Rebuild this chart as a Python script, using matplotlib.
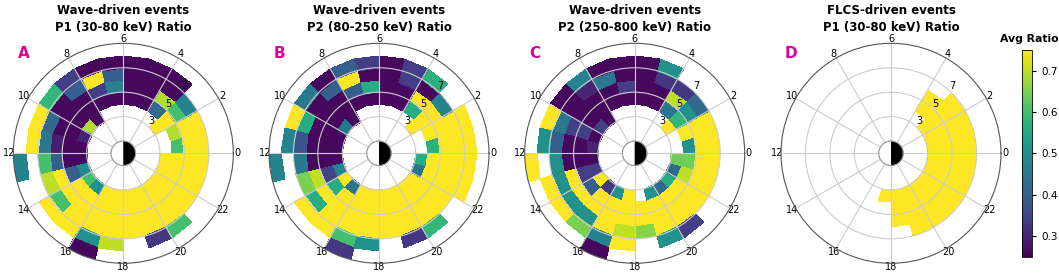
import numpy as np
import matplotlib
matplotlib.use("Agg")
import matplotlib.pyplot as plt

nan = np.nan

# bins: MLT in hours (1 h), L shell (1 unit, 3..9)
mlt_edges = np.arange(0, 25, 1)
l_edges = np.arange(3, 10, 1)

# average ratio per bin, one list per L ring (3-4, 4-5, ... 8-9), MLT 0..23
# A: wave-driven, P1 (30-80 keV)
a_L3 = [nan, nan, .75, nan, nan, nan, nan, nan, .26, .69, .30, .26, .26, .48, .60, .50, .75, .75, .75, .75, .75, .75, .75, .75]
a_L4 = [.60, .69, .75, .42, .26, .26, .26, .26, .26, .26, .26, .26, .26, .40, .75, .75, .75, .75, .75, .75, .75, .75, .75, .75]
a_L5 = [.75, .75, .60, .69, .26, .26, .47, .34, .26, .26, .26, .29, .40, .75, .75, .75, .75, .75, .75, .75, .75, .75, .75, .75]
a_L6 = [.75, .75, .47, .26, .26, .26, .40, .75, .40, .26, .42, .45, .60, .70, .60, .75, .75, .75, .75, .75, .75, .75, .75, .75]
a_L7 = [nan, nan, nan, .26, .26, .26, .26, .26, .34, .58, .75, .75, nan, nan, .75, .75, .50, .70, nan, .33, .60, nan, nan, nan]
a_L8 = [nan, nan, nan, nan, nan, nan, nan, nan, nan, nan, nan, nan, .47, nan, nan, nan, .26, nan, nan, nan, nan, nan, nan, nan]

# B: wave-driven, P2 (80-250 keV)
b_L3 = [nan, nan, .75, nan, nan, nan, nan, nan, .26, .45, .26, .26, .26, .47, .75, .44, .75, .75, .75, .75, .75, .75, .44, .56]
b_L4 = [.57, .75, .75, .56, .26, .26, .26, .26, .26, .26, .26, .26, .26, .35, .56, .75, .75, .75, .75, .75, .75, .75, .75, .75]
b_L5 = [.75, .75, .75, .75, .26, .26, .56, .40, .26, .26, .26, .26, .26, .70, .75, .75, .75, .75, .75, .75, .75, .75, .75, .75]
b_L6 = [.75, .75, .47, .26, .34, .26, .26, .75, .40, .26, .56, .38, .45, .65, .56, .75, .75, .75, .75, .75, .75, .75, .75, .75]
b_L7 = [.75, .75, nan, .57, .34, .26, .34, .40, .26, .45, .75, .47, nan, nan, .75, .75, .60, .50, nan, .33, .58, nan, .75, .75]
b_L8 = [nan, nan, nan, nan, nan, nan, nan, nan, nan, nan, nan, nan, .47, nan, nan, nan, .33, nan, nan, nan, nan, nan, nan, nan]

# C: wave-driven, P2 (250-800 keV)
c_L3 = [nan, nan, .75, nan, nan, nan, nan, nan, .26, .34, .26, .30, .26, .34, .75, .33, .50, .75, nan, .50, .42, .56, .42, .64]
c_L4 = [.50, .75, .58, .45, .26, .26, .26, .26, .26, .26, .34, .26, .26, .34, .40, .75, .75, .75, .75, .75, .75, .75, .70, .64]
c_L5 = [.75, .75, .50, .70, .26, .26, .34, .26, .26, .26, .34, .26, .26, .75, .75, .75, .75, .75, .75, .75, .75, .75, .75, .75]
c_L6 = [.75, .75, .42, .33, .33, .26, .26, .45, .30, .26, .45, .40, .50, .50, .50, .50, .75, .70, .66, .75, .75, .75, .75, .75]
c_L7 = [nan, nan, nan, nan, .50, .26, .26, .26, .47, .26, .75, .50, nan, .75, .75, .65, .47, .75, nan, .50, .34, nan, nan, nan]
c_L8 = [nan, nan, nan, nan, nan, nan, nan, nan, nan, nan, nan, nan, .75, nan, nan, nan, .26, nan, nan, nan, nan, nan, nan, nan]

# D: FLCS-driven, P1 (30-80 keV)
d_L3 = [.75, .75, .75, nan, nan, nan, nan, nan, nan, nan, nan, nan, nan, nan, nan, nan, nan, .75, .75, .75, .75, .75, .75, .75]
d_L4 = [.75, .75, .75, .75, nan, nan, nan, nan, nan, nan, nan, nan, nan, nan, nan, nan, nan, nan, .75, .75, .75, .75, .75, .75]
d_L5 = [.75, .75, .75, .75, nan, nan, nan, nan, nan, nan, nan, nan, nan, nan, nan, nan, nan, nan, .75, .75, .75, .75, .75, .75]
d_L6 = [.75, .75, .75, nan, nan, nan, nan, nan, nan, nan, nan, nan, nan, nan, nan, nan, nan, nan, nan, .75, .75, .75, .75, .75]
d_L7 = [nan] * 24
d_L8 = [nan] * 24

panels = [
    [a_L3, a_L4, a_L5, a_L6, a_L7, a_L8],
    [b_L3, b_L4, b_L5, b_L6, b_L7, b_L8],
    [c_L3, c_L4, c_L5, c_L6, c_L7, c_L8],
    [d_L3, d_L4, d_L5, d_L6, d_L7, d_L8],
]
titles = ["Wave-driven events\nP1 (30-80 keV) Ratio",
          "Wave-driven events\nP2 (80-250 keV) Ratio",
          "Wave-driven events\nP2 (250-800 keV) Ratio",
          "FLCS-driven events\nP1 (30-80 keV) Ratio"]
letters = ["A", "B", "C", "D"]
mlt_labels = [str(h) for h in range(0, 24, 2)]

W, H = 1059, 273
fig = plt.figure(figsize=(W / 100, H / 100), dpi=100)

centers = [123.3, 379.0, 634.7, 891.0]   # pixel x of each dial
cy = 153.3
rad = 110

for cx, rings, title, letter in zip(centers, panels, titles, letters):
    ax = fig.add_axes([(cx - rad) / W, (H - cy - rad) / H, 2 * rad / W, 2 * rad / H],
                      projection="polar")
    theta = np.radians(mlt_edges * 15)
    data = np.ma.masked_invalid(np.array(rings))
    mesh = ax.pcolormesh(theta, l_edges, data, cmap="viridis", vmin=0.25, vmax=0.75,
                         shading="flat", antialiased=False)
    ax.set_ylim(0, 9)
    ax.set_xticks(np.radians(np.arange(0, 360, 30)))
    ax.set_xticklabels(mlt_labels, fontsize=7)
    ax.tick_params(axis="x", pad=-7.5)
    ax.set_yticks([1, 3, 5, 7])
    ax.set_yticklabels(["", "3", "5", "7"], fontsize=7)
    ax.set_rlabel_position(47)
    ax.grid(True, color="#cccccc", lw=0.8)
    ax.spines["polar"].set_color("#555555")
    ax.spines["polar"].set_linewidth(0.8)

    # Earth: day side white, night side black
    ax.bar(np.pi, 1, width=np.pi, bottom=0, color="white", zorder=3)
    ax.bar(0, 1, width=np.pi, bottom=0, color="black", zorder=3)
    tt = np.linspace(0, 2 * np.pi, 200)
    ax.plot(tt, np.ones_like(tt), color="#999999", lw=0.8, zorder=3.5)
    ax.set_ylim(0, 9)

    fig.text(cx / W, 1 - 19 / H, title, ha="center", va="center",
             fontsize=8.5, fontweight="bold", linespacing=1.3)
    fig.text((cx - 100) / W, 1 - 53 / H, letter, ha="center", va="center",
             fontsize=11, fontweight="bold", color="#dd0099")

cax = fig.add_axes([1021.7 / W, 16.3 / H, 10.6 / W, 206.7 / H])
cb = fig.colorbar(mesh, cax=cax, ticks=[0.3, 0.4, 0.5, 0.6, 0.7])
cb.ax.tick_params(labelsize=7.5, length=3)
cb.outline.set_linewidth(0.6)
fig.text(1029.5 / W, 1 - 39 / H, "Avg Ratio", ha="center", va="center",
         fontsize=7.8, fontweight="bold")

fig.savefig("out.png", dpi=100)
